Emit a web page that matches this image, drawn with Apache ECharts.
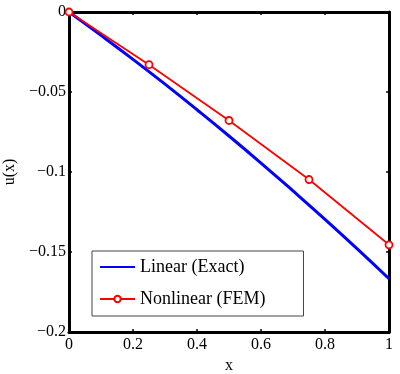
<!DOCTYPE html>
<html><head><meta charset="utf-8">
<script src="https://cdn.jsdelivr.net/npm/echarts@6/dist/echarts.min.js"></script>
<style>html,body{margin:0;padding:0;background:#fff}#c{width:400px;height:374px}</style>
</head><body><div id="c"></div>
<script>
var linearX = [0, 0.1, 0.2, 0.3, 0.4, 0.5, 0.6, 0.7, 0.8, 0.9, 1.0];
var linearU = [0, -0.0146, -0.0296, -0.0451, -0.0611, -0.0775, -0.0944, -0.1118, -0.1296, -0.1479, -0.1667];
var femX = [0, 0.25, 0.5, 0.75, 1.0];
var femU = [0, -0.0329, -0.0678, -0.1047, -0.1455];
var xTicks = [0, 0.2, 0.4, 0.6, 0.8, 1];
var yTicks = [0, -0.05, -0.1, -0.15, -0.2];

var font = 'Liberation Serif';
var fs = 16;
function fmtY(v){ if (Math.abs(v) < 1e-9) return '0'; var s = String(+v.toFixed(2)); return s.replace('-', '\u2212'); }
function fmtX(v){ return String(+v.toFixed(1)); }
var axisLine = {show: true, onZero: false, lineStyle: {color: '#000', width: 3}};
var tick = {show: true, inside: true, length: 3, lineStyle: {color: '#000', width: 1.5}};
var chart = echarts.init(document.getElementById('c'));
chart.setOption({
  animation: false,
  grid: {left: 69, right: 11, top: 12, bottom: 42, containLabel: false, outerBoundsMode: 'none'},
  legend: {
    left: 92, top: 251, orient: 'vertical',
    backgroundColor: '#fff', borderColor: '#444', borderWidth: 1, borderRadius: 0,
    padding: [7, 38, 8, 7], itemGap: 14, itemWidth: 35, itemHeight: 8,
    textStyle: {fontFamily: font, fontSize: 18, color: '#000'},
    data: [
      {name: 'Linear (Exact)', itemStyle: {color: 'rgba(0,0,0,0)', borderColor: 'rgba(0,0,0,0)', borderWidth: 0, opacity: 0}},
      {name: 'Nonlinear (FEM)'}
    ]
  },
  xAxis: [{
    type: 'value', min: 0, max: 1, interval: 0.2, position: 'bottom',
    name: 'x', nameLocation: 'middle', nameGap: 20,
    nameTextStyle: {fontFamily: font, fontSize: fs, color: '#000'},
    axisLine: axisLine, axisTick: tick,
    axisLabel: {fontFamily: font, fontSize: fs, color: '#000', margin: 5, formatter: fmtX},
    splitLine: {show: false}
  }, {
    type: 'value', min: 0, max: 1, interval: 0.2, position: 'top',
    axisLine: axisLine, axisTick: tick,
    axisLabel: {show: false}, splitLine: {show: false}
  }],
  yAxis: [{
    type: 'value', min: -0.2, max: 0, interval: 0.05, position: 'left',
    name: 'u(x)', nameLocation: 'middle', nameGap: 48, nameRotate: 90,
    nameTextStyle: {fontFamily: font, fontSize: fs, color: '#000'},
    axisLine: axisLine, axisTick: tick,
    axisLabel: {fontFamily: font, fontSize: fs, color: '#000', margin: 3, formatter: fmtY},
    splitLine: {show: false}
  }, {
    type: 'value', min: -0.2, max: 0, interval: 0.05, position: 'right',
    axisLine: axisLine, axisTick: tick,
    axisLabel: {show: false}, splitLine: {show: false}
  }],
  series: [{
    name: 'Linear (Exact)', type: 'line', smooth: true, showSymbol: false, symbol: 'none',
    data: linearX.map(function(x, i){ return [x, linearU[i]]; }),
    lineStyle: {color: '#0000ff', width: 3}, itemStyle: {color: '#0000ff'}, z: 2
  }, {
    name: 'Nonlinear (FEM)', type: 'line', symbol: 'circle', symbolSize: 7,
    data: femX.map(function(x, i){ return [x, femU[i]]; }),
    lineStyle: {color: '#ff0000', width: 1.8},
    itemStyle: {color: '#fff', borderColor: '#ff0000', borderWidth: 1.8}, z: 3
  }]
});
</script></body></html>
